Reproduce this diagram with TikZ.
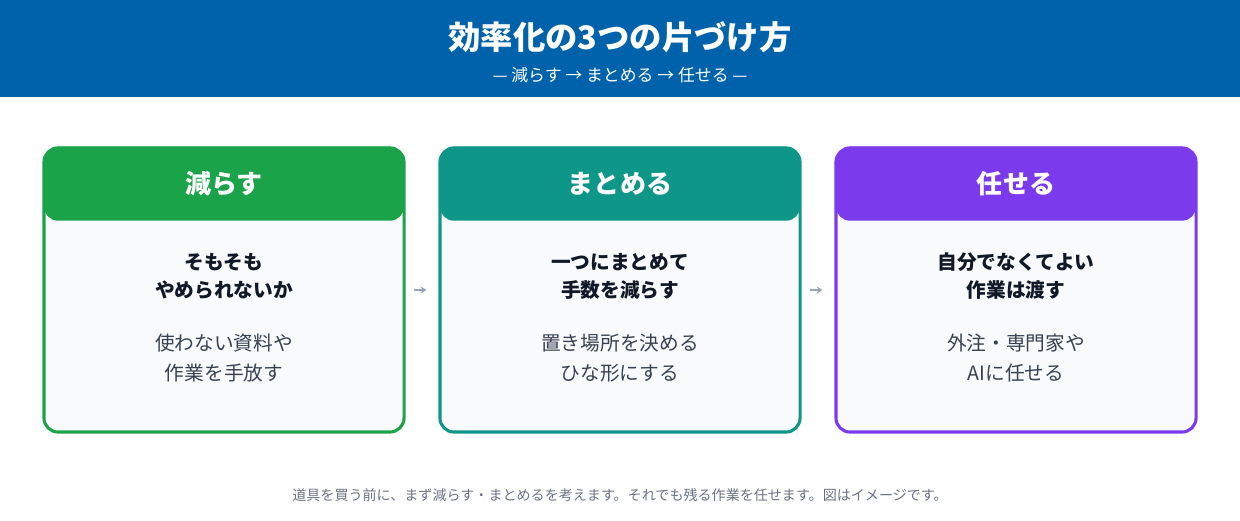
\documentclass[tikz,border=0pt]{standalone}
\usepackage{fontspec}
\setmainfont{Noto Sans CJK JP}
\usetikzlibrary{positioning,arrows.meta}
\definecolor{hdrblue}{HTML}{0062AB}
\definecolor{cgreen}{HTML}{1BA34A}
\definecolor{cteal}{HTML}{0E9688}
\definecolor{cpurple}{HTML}{7B3AEC}
\definecolor{cardbg}{HTML}{F8FAFC}
\definecolor{darktxt}{HTML}{111827}
\definecolor{bodytxt}{HTML}{374151}
\definecolor{foottxt}{HTML}{6B7280}
\definecolor{arrgray}{HTML}{94A3B8}
\tikzset{
  card/.style={draw=#1, line width=2.2pt, fill=cardbg, rounded corners=10pt,
    minimum width=9cm, minimum height=7.1cm, inner sep=0pt},
  cardhead/.style={fill=#1, rounded corners=10pt, minimum width=9cm,
    minimum height=1.85cm, inner sep=0pt, text=white, font=\bfseries\fontsize{18.5}{22}\selectfont},
  point/.style={align=center, text=darktxt, font=\bfseries\fontsize{14}{20}\selectfont},
  detail/.style={align=center, text=bodytxt, font=\fontsize{14}{21.5}\selectfont},
  arr/.style={-{Stealth[length=4pt,width=5pt]}, arrgray, line width=1.6pt,
    shorten <=0.2cm, shorten >=0.3cm}
}
\begin{document}
\begin{tikzpicture}[x=0.025cm,y=-0.025cm]
  \useasboundingbox (0,0) rectangle (1240,520);
  \fill[hdrblue] (0,0) rectangle (1240,97);
  \node[text=white, font=\bfseries\fontsize{23}{26}\selectfont] (title) at (620,37) {効率化の3つの片づけ方};
  \node[text=white, font=\fontsize{12}{14}\selectfont] (subtitle) at (620,75) {— 減らす → まとめる → 任せる —};
  % cards
  \foreach \n/\cx/\col/\head/\pt/\dt in {
    1/224/cgreen/減らす/{そもそも\\やめられないか}/{使わない資料や\\作業を手放す},
    2/620/cteal/まとめる/{一つにまとめて\\手数を減らす}/{置き場所を決める\\ひな形にする},
    3/1016/cpurple/任せる/{自分でなくてよい\\作業は渡す}/{外注・専門家や\\AIに任せる}} {
    \node[card=\col] (c\n) at (\cx,290) {};
    \node[cardhead=\col, below=0pt of c\n.north] (h\n) {\head};
    \node[point] (p\n) at (\cx,276) {\pt};
    \node[detail] (d\n) at (\cx,358) {\dt};
  }
  \draw[arr] (c1.east) -- (c2.west);
  \draw[arr] (c2.east) -- (c3.west);
  \node[text=foottxt, font=\fontsize{10}{12}\selectfont] (foot) at (620,495)
    {道具を買う前に、まず減らす・まとめるを考えます。それでも残る作業を任せます。図はイメージです。};
\end{tikzpicture}
\end{document}
